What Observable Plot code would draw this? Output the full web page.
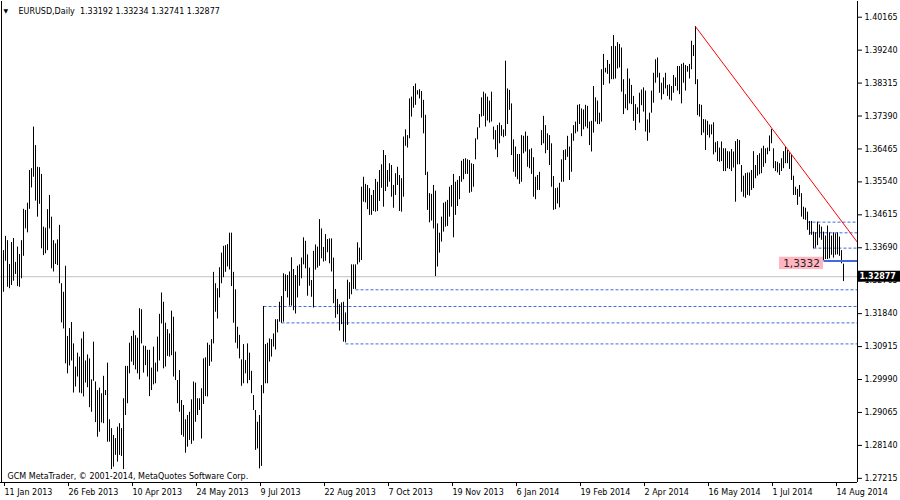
<!DOCTYPE html>
<html><head><meta charset="utf-8">
<script src="https://cdn.jsdelivr.net/npm/d3@7"></script>
<script src="https://cdn.jsdelivr.net/npm/@observablehq/plot@0.6"></script>
<style>html,body{margin:0;padding:0;background:#fff;} svg{display:block}</style>
</head><body><div id="chart"></div>
<script>
const symbolTitle = "EURUSD,Daily  1.33192 1.33234 1.32741 1.32877";
const caption = "GCM MetaTrader, \u00a9 2001-2014, MetaQuotes Software Corp.";

const highs = [
1.3361,1.3401,1.3389,1.3322,1.3384,1.3395,1.3328,1.3371,1.3350,1.3389,
1.3477,1.3474,1.3494,1.3586,1.3591,1.3708,1.3656,1.3595,1.3594,1.3575,
1.3427,1.3424,1.3476,1.3516,1.3455,1.3389,1.3380,1.3391,1.3432,1.3268,
1.3244,1.3317,1.3120,1.3142,1.3159,1.3099,1.3034,1.3073,1.3062,1.3113,
1.3132,1.3051,1.3068,1.3057,1.2998,1.3104,1.2992,1.2968,1.2975,1.2959,
1.3008,1.2968,1.3045,1.2886,1.2861,1.2842,1.2833,1.2865,1.2875,1.2861,
1.2945,1.3036,1.3036,1.3101,1.3120,1.3135,1.3122,1.3115,1.3198,1.3195,
1.3093,1.3092,1.3081,1.3081,1.3031,1.3090,1.3045,1.3118,1.3182,1.3242,
1.3216,1.3157,1.3139,1.3127,1.3191,1.3174,1.3076,1.2996,1.3024,1.2940,
1.2926,1.2886,1.2898,1.2907,1.2942,1.2992,1.2989,1.2945,1.2945,1.2973,
1.3057,1.3060,1.3101,1.3095,1.3111,1.3300,1.3268,1.3254,1.3313,1.3354,
1.3373,1.3375,1.3378,1.3410,1.3410,1.3300,1.3251,1.3146,1.3123,1.3054,
1.3097,1.3052,1.3099,1.3073,1.3022,1.2954,1.2912,1.2879,1.2898,1.2982,
1.3204,1.3097,1.3101,1.3113,1.3111,1.3127,1.3167,1.3167,1.3216,1.3232,
1.3296,1.3293,1.3291,1.3301,1.3341,1.3308,1.3291,1.3317,1.3321,1.3340,
1.3397,1.3387,1.3349,1.3312,1.3277,1.3359,1.3377,1.3371,1.3448,1.3422,
1.3370,1.3406,1.3392,1.3394,1.3394,1.3340,1.3252,1.3224,1.3209,1.3214,
1.3216,1.3186,1.3278,1.3271,1.3321,1.3321,1.3321,1.3383,1.3368,1.3539,
1.3567,1.3547,1.3544,1.3535,1.3516,1.3530,1.3561,1.3553,1.3586,1.3602,
1.3642,1.3628,1.3586,1.3605,1.3600,1.3544,1.3577,1.3595,1.3572,1.3563,
1.3680,1.3700,1.3684,1.3787,1.3792,1.3822,1.3829,1.3810,1.3813,1.3808,
1.3783,1.3741,1.3581,1.3521,1.3519,1.3544,1.3528,1.3436,1.3410,1.3455,
1.3494,1.3497,1.3502,1.3539,1.3544,1.3575,1.3553,1.3558,1.3569,1.3612,
1.3617,1.3619,1.3616,1.3614,1.3605,1.3603,1.3675,1.3706,1.3743,1.3790,
1.3806,1.3801,1.3792,1.3781,1.3806,1.3708,1.3698,1.3712,1.3719,1.3712,
1.3700,1.3893,1.3815,1.3811,1.3773,1.3672,1.3652,1.3631,1.3631,1.3684,
1.3682,1.3694,1.3682,1.3644,1.3647,1.3622,1.3567,1.3572,1.3581,1.3698,
1.3738,1.3712,1.3689,1.3684,1.3661,1.3569,1.3535,1.3537,1.3550,1.3616,
1.3642,1.3644,1.3682,1.3652,1.3689,1.3712,1.3722,1.3769,1.3771,1.3759,
1.3756,1.3769,1.3766,1.3722,1.3724,1.3822,1.3790,1.3781,1.3747,1.3869,
1.3912,1.3873,1.3895,1.3884,1.3934,1.3965,1.3934,1.3945,1.3940,1.3930,
1.3841,1.3799,1.3871,1.3843,1.3825,1.3794,1.3771,1.3762,1.3803,1.3812,
1.3818,1.3809,1.3728,1.3747,1.3809,1.3859,1.3897,1.3902,1.3859,1.3831,
1.3846,1.3859,1.3825,1.3827,1.3822,1.3853,1.3846,1.3878,1.3878,1.3884,
1.3887,1.3881,1.3878,1.3884,1.3949,1.3937,1.3990,1.3841,1.3771,1.3769,
1.3729,1.3728,1.3724,1.3714,1.3714,1.3720,1.3664,1.3667,1.3649,1.3666,
1.3647,1.3647,1.3639,1.3638,1.3645,1.3638,1.3667,1.3673,1.3670,1.3600,
1.3570,1.3577,1.3579,1.3579,1.3586,1.3639,1.3600,1.3628,1.3633,1.3647,
1.3654,1.3647,1.3649,1.3683,1.3701,1.3647,1.3611,1.3609,1.3605,1.3619,
1.3639,1.3651,1.3642,1.3636,1.3630,1.3570,1.3539,1.3533,1.3544,1.3521,
1.3483,1.3480,1.3469,1.3443,1.3443,1.3413,1.3411,1.3441,1.3433,1.3427,
1.3413,1.3402,1.3430,1.3411,1.3402,1.3411,1.3408,1.3411,1.3399,1.3361,
1.3323];

const lows = [
1.3244,1.3331,1.3258,1.3254,1.3263,1.3275,1.3294,1.3260,1.3258,1.3282,
1.3345,1.3422,1.3411,1.3477,1.3537,1.3567,1.3500,1.3455,1.3491,1.3366,
1.3347,1.3352,1.3361,1.3422,1.3310,1.3301,1.3322,1.3319,1.3268,1.3158,
1.3141,1.3043,1.3015,1.3037,1.3051,1.2961,1.2978,1.3006,1.2961,1.2959,
1.2950,1.2989,1.2976,1.2920,1.2907,1.2994,1.2878,1.2837,1.2851,1.2877,
1.2875,1.2954,1.2823,1.2823,1.2746,1.2753,1.2786,1.2767,1.2786,1.2783,
1.2746,1.2898,1.2931,1.3015,1.3048,1.3038,1.3026,1.3015,1.2998,1.3099,
1.3017,1.3038,1.3006,1.2951,1.2968,1.2984,1.2987,1.3020,1.3051,1.3155,
1.3029,1.3034,1.3064,1.3062,1.3066,1.3006,1.2996,1.2931,1.2907,1.2842,
1.2837,1.2792,1.2809,1.2828,1.2817,1.2826,1.2879,1.2898,1.2912,1.2832,
1.2929,1.2951,1.2950,1.3036,1.3048,1.3099,1.3188,1.3169,1.3228,1.3268,
1.3285,1.3300,1.3315,1.3307,1.3260,1.3157,1.3101,1.3085,1.3057,1.2980,
1.2987,1.3015,1.2987,1.2996,1.2959,1.2912,1.2800,1.2804,1.2748,1.2755,
1.2959,1.2987,1.2987,1.3048,1.3062,1.3090,1.3082,1.3130,1.3160,1.3157,
1.3160,1.3246,1.3228,1.3205,1.3205,1.3192,1.3183,1.3228,1.3261,1.3282,
1.3321,1.3310,1.3233,1.3261,1.3230,1.3200,1.3306,1.3312,1.3317,1.3338,
1.3329,1.3331,1.3355,1.3324,1.3301,1.3212,1.3171,1.3181,1.3135,1.3153,
1.3104,1.3102,1.3151,1.3224,1.3237,1.3252,1.3252,1.3321,1.3327,1.3333,
1.3497,1.3495,1.3476,1.3460,1.3460,1.3471,1.3469,1.3471,1.3499,1.3536,
1.3483,1.3527,1.3539,1.3553,1.3511,1.3480,1.3516,1.3544,1.3471,1.3469,
1.3511,1.3654,1.3649,1.3675,1.3736,1.3761,1.3769,1.3798,1.3787,1.3733,
1.3689,1.3572,1.3474,1.3439,1.3444,1.3422,1.3288,1.3315,1.3354,1.3385,
1.3413,1.3427,1.3429,1.3455,1.3483,1.3397,1.3460,1.3485,1.3504,1.3553,
1.3560,1.3575,1.3575,1.3522,1.3525,1.3539,1.3616,1.3672,1.3705,1.3736,
1.3738,1.3708,1.3725,1.3719,1.3722,1.3672,1.3644,1.3622,1.3661,1.3682,
1.3678,1.3682,1.3715,1.3755,1.3628,1.3581,1.3567,1.3560,1.3547,1.3553,
1.3633,1.3638,1.3595,1.3591,1.3575,1.3511,1.3504,1.3530,1.3530,1.3656,
1.3661,1.3633,1.3642,1.3600,1.3539,1.3474,1.3476,1.3492,1.3481,1.3553,
1.3553,1.3614,1.3623,1.3558,1.3581,1.3668,1.3689,1.3694,1.3715,1.3681,
1.3700,1.3708,1.3703,1.3656,1.3638,1.3691,1.3722,1.3715,1.3715,1.3722,
1.3825,1.3860,1.3856,1.3829,1.3841,1.3841,1.3843,1.3871,1.3874,1.3806,
1.3743,1.3759,1.3754,1.3773,1.3771,1.3724,1.3698,1.3743,1.3719,1.3768,
1.3750,1.3694,1.3668,1.3691,1.3747,1.3775,1.3831,1.3846,1.3803,1.3784,
1.3799,1.3815,1.3794,1.3784,1.3781,1.3803,1.3822,1.3809,1.3799,1.3773,
1.3831,1.3809,1.3862,1.3843,1.3869,1.3906,1.3827,1.3740,1.3736,1.3684,
1.3691,1.3642,1.3684,1.3677,1.3686,1.3630,1.3636,1.3611,1.3609,1.3611,
1.3583,1.3583,1.3591,1.3589,1.3583,1.3593,1.3497,1.3602,1.3602,1.3525,
1.3511,1.3508,1.3516,1.3514,1.3530,1.3535,1.3563,1.3570,1.3574,1.3577,
1.3595,1.3605,1.3630,1.3639,1.3661,1.3591,1.3583,1.3579,1.3572,1.3583,
1.3591,1.3605,1.3605,1.3589,1.3558,1.3516,1.3516,1.3488,1.3511,1.3455,
1.3448,1.3446,1.3418,1.3404,1.3404,1.3366,1.3368,1.3375,1.3396,1.3390,
1.3333,1.3336,1.3336,1.3338,1.3348,1.3340,1.3348,1.3349,1.3345,1.3324,
1.3274];

const dateLabels = ["11 Jan 2013","26 Feb 2013","10 Apr 2013","24 May 2013","9 Jul 2013",
  "22 Aug 2013","7 Oct 2013","19 Nov 2013","6 Jan 2014","19 Feb 2014","2 Apr 2014",
  "16 May 2014","1 Jul 2014","14 Aug 2014"];
const dateTickIndex = [0,32,64,96,128,160,192,224,256,288,320,352,384,416];

const priceTicks = [1.27215,1.28140,1.29065,1.29990,1.30915,1.31840,1.32765,1.33690,
  1.34615,1.35540,1.36465,1.37390,1.38315,1.39240,1.40165];

const currentPrice = 1.32877;

// dashed horizontal levels: price and the bar index where each starts
const levelPrices = [1.3441,1.3411,1.3368,1.3251,1.3204,1.3158,1.3099];
const levelStarts = [402,403,405,176,130,139,171];

// solid support level with its label
const supportPrice = 1.3332;
const supportStart = 410;
const supportLabel = "1,3332";

// trend line (bar index, price)
const trendStart = [346, 1.3990];
const trendEnd = [427, 1.3384];

const bars = highs.map((h, i) => ({i, high: h, low: lows[i]}));
const levels = levelPrices.map((p, k) => ({price: p, start: levelStarts[k]}));
const support = [{price: supportPrice, start: supportStart, label: supportLabel}];
const trend = [{x1: trendStart[0], y1: trendStart[1], x2: trendEnd[0], y2: trendEnd[1]}];

const xMin = -1.5, xMax = 427;
const yMin = 1.27098, yMax = 1.40606;

const chart = Plot.plot({
  width: 900, height: 500,
  marginLeft: 0, marginRight: 43, marginTop: 1, marginBottom: 18,
  style: {fontFamily: "DejaVu Sans", fontSize: "8px", background: "#fff", color: "#000"},
  x: {domain: [xMin, xMax], axis: null},
  y: {domain: [yMin, yMax], axis: null},
  marks: [
    Plot.ruleY([currentPrice], {stroke: "#c0c0c0"}),
    Plot.link(levels, {x1: "start", x2: () => xMax, y1: "price", y2: "price",
      stroke: "#4169e1", strokeDasharray: "3,2"}),
    Plot.ruleX(bars, {x: "i", y1: "low", y2: "high", stroke: "#000", strokeWidth: 1}),
    Plot.link(trend, {x1: "x1", y1: "y1", x2: "x2", y2: "y2", stroke: "#ff0000"}),
    Plot.rect(support, {x1: d => d.start - 22, x2: d => d.start,
      y1: d => d.price + 0.00104, y2: d => d.price - 0.00242, fill: "#ffb6c1"}),
    Plot.text(support, {x: d => d.start - 11, y: d => d.price - 0.0008, text: "label",
      fontSize: 10.5, fill: "#222"}),
    Plot.link(support, {x1: "start", x2: () => xMax, y1: "price", y2: "price",
      stroke: "#4169e1", strokeWidth: 2}),
    Plot.ruleX([xMin], {stroke: "#000", dx: 1}),
    Plot.ruleX([xMax], {stroke: "#000"}),
    Plot.ruleY([yMin], {stroke: "#000"}),
    Plot.axisX({ticks: dateTickIndex, tickFormat: d => dateLabels[dateTickIndex.indexOf(d)],
      tickSize: 4, tickPadding: 3, textAnchor: "start", dx: 1, fontSize: 8, stroke: "#000", fill: "#000"}),
    Plot.axisY({anchor: "right", ticks: priceTicks, tickFormat: d3.format(".5f"),
      tickSize: 4, tickPadding: 3, fontSize: 8, stroke: "#000", fill: "#000"}),
    Plot.rect([currentPrice], {x1: xMax, x2: xMax + 21.5, y1: d => d + 0.00154, y2: d => d - 0.00154, fill: "#000"}),
    Plot.text([currentPrice], {x: xMax + 1, y: d => d, text: d => d3.format(".5f")(d),
      fill: "#fff", fontWeight: "bold", textAnchor: "start", fontSize: 8}),
    Plot.text(["\u25BC"], {frameAnchor: "top-left", dx: 3, dy: 7, fontSize: 6, fill: "#000"}),
    Plot.text([symbolTitle], {frameAnchor: "top-left", dx: 18, dy: 7, fontSize: 8, fill: "#000"}),
    Plot.text([caption], {frameAnchor: "bottom-left", dx: 7, dy: -4, fontSize: 8, fill: "#000"})
  ]
});
document.getElementById("chart").appendChild(chart);
</script>
</body></html>
